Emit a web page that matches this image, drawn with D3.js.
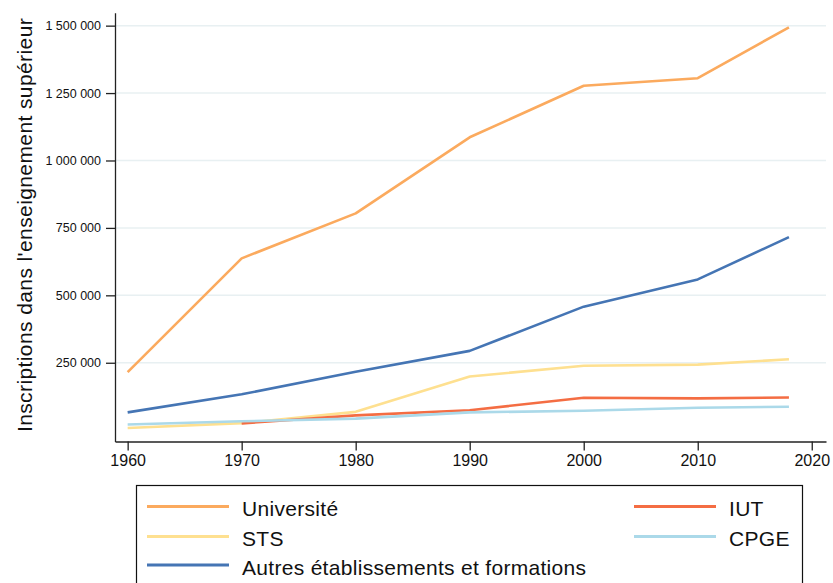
<!DOCTYPE html>
<html><head><meta charset="utf-8">
<script src="https://cdn.jsdelivr.net/npm/d3@7"></script>
<style>
body{margin:0;background:#fff;}
svg{display:block;font-family:"Liberation Sans",Arial,Helvetica,sans-serif;}
</style></head>
<body><svg id="c" width="833" height="583"></svg>
<script>
const years = [1960, 1970, 1980, 1990, 2000, 2010, 2018];
const universite = [215000, 637000, 804000, 1086000, 1277000, 1305000, 1494000];
const sts = [8000, 26000, 68000, 199000, 239000, 243000, 263000];
const autres = [66000, 133000, 217000, 294000, 458000, 559000, 716000];
const iutYears = [1970, 1980, 1990, 2000, 2010, 2018];
const iut = [25000, 55000, 74000, 120000, 118000, 121000];
const cpge = [21000, 33000, 43000, 66000, 72000, 83000, 87000];
const yTicks = [250000, 500000, 750000, 1000000, 1250000, 1500000];
const xTicks = [1960, 1970, 1980, 1990, 2000, 2010, 2020];
const yTitle = "Inscriptions dans l'enseignement supérieur";

const series = [
  {name:"Université", x:years, v:universite, color:"#fbaa5e"},
  {name:"STS", x:years, v:sts, color:"#fee090"},
  {name:"Autres établissements et formations", x:years, v:autres, color:"#4575b4"},
  {name:"IUT", x:iutYears, v:iut, color:"#f46d43"},
  {name:"CPGE", x:years, v:cpge, color:"#abd9e9"}
];

const svg = d3.select("#c");
const x = d3.scaleLinear().domain([1958.89, 2021.25]).range([115, 826]);
const y = d3.scaleLinear().domain([-42000, 1548000]).range([441.5, 12.7]);

// gridlines
svg.append("g").selectAll("line").data(yTicks).join("line")
  .attr("x1", 115).attr("x2", 826)
  .attr("y1", d => y(d)).attr("y2", d => y(d))
  .attr("stroke", "#e8f0f2").attr("stroke-width", 1.5);

const fmt = d => d3.format(",")(d).replace(/,/g, " ");

// y axis
const ya = svg.append("g").attr("transform", "translate(115,0)")
  .call(d3.axisLeft(y).tickValues(yTicks).tickFormat(fmt).tickSize(9).tickSizeOuter(0).tickPadding(5));
ya.select(".domain").attr("stroke", "#222").attr("stroke-width", 1.3);
ya.selectAll(".tick line").attr("stroke", "#222").attr("stroke-width", 1.3);
ya.selectAll("text").attr("font-size", 12.5).attr("fill", "#111")
  .attr("font-family", "'Liberation Sans', Arial, sans-serif");

// x axis
const xa = svg.append("g").attr("transform", "translate(0,441.5)")
  .call(d3.axisBottom(x).tickValues(xTicks).tickFormat(d3.format("d")).tickSize(9).tickSizeOuter(0).tickPadding(4));
xa.select(".domain").attr("stroke", "#222").attr("stroke-width", 1.3);
xa.selectAll(".tick line").attr("stroke", "#222").attr("stroke-width", 1.3);
xa.selectAll("text").attr("font-size", 16).attr("fill", "#111")
  .attr("font-family", "'Liberation Sans', Arial, sans-serif");

// y title
svg.append("text").attr("transform", "translate(32,225) rotate(-90)")
  .attr("text-anchor", "middle").attr("font-size", 21).attr("letter-spacing", 0.4).attr("fill", "#111")
  .text(yTitle);

// lines
const line = d3.line().x(d => x(d[0])).y(d => y(d[1]));
svg.append("g").selectAll("path").data(series).join("path")
  .attr("d", s => line(s.x.map((xx, i) => [xx, s.v[i]])))
  .attr("fill", "none").attr("stroke", s => s.color).attr("stroke-width", 2.6)
  .attr("stroke-linejoin", "round");

// legend
const lg = svg.append("g");
lg.append("rect").attr("x", 136.5).attr("y", 485.5).attr("width", 666).attr("height", 120)
  .attr("fill", "none").attr("stroke", "#111").attr("stroke-width", 1.2);
const legPos = [
  {i:0, lx:147, tx:242, ly:506.5},
  {i:1, lx:147, tx:242, ly:536.5},
  {i:2, lx:147, tx:242, ly:565},
  {i:3, lx:634, tx:729, ly:506.5},
  {i:4, lx:634, tx:729, ly:536.5}
];
legPos.forEach(p => {
  const s = series[p.i];
  lg.append("line").attr("x1", p.lx).attr("x2", p.lx + 82).attr("y1", p.ly).attr("y2", p.ly)
    .attr("stroke", s.color).attr("stroke-width", 3);
  lg.append("text").attr("x", p.tx).attr("y", p.ly + 9.5).attr("font-size", 21).attr("letter-spacing", 0.3).attr("fill", "#111")
    .text(s.name);
});
</script></body></html>
